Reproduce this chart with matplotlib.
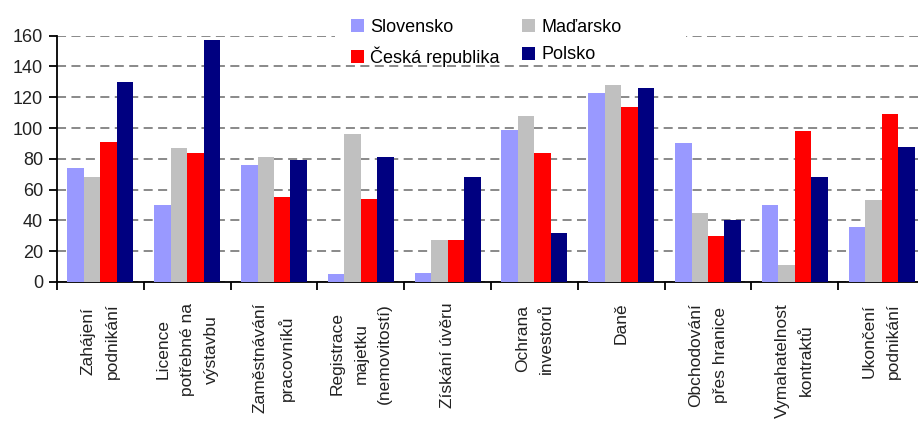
import matplotlib.pyplot as plt
import numpy as np
from matplotlib.patches import Rectangle

plt.rcParams['font.family'] = ['Liberation Sans', 'DejaVu Sans']

# kategorie
kategorie = ["Zahájení\npodnikání", "Licence\npotřebné na\nvýstavbu",
             "Zaměstnávání\npracovníků", "Registrace\nmajetku\n(nemovitostí)",
             "Získání úvěru", "Ochrana\ninvestorů", "Daně",
             "Obchodování\npřes hranice", "Vymahatelnost\nkontraktů",
             "Ukončení\npodnikání"]

slovensko = [74, 50, 76, 5, 6, 99, 123, 90, 50, 36]
madarsko = [68, 87, 81, 96, 27, 108, 128, 45, 11, 53]
cesko = [91, 84, 55, 54, 27, 84, 114, 30, 98, 109]
polsko = [130, 157, 79, 81, 68, 32, 126, 40, 68, 88]

nazvy = ["Slovensko", "Maďarsko", "Česká republika", "Polsko"]
barvy = ["#9999FF", "#C0C0C0", "#FF0000", "#000080"]

fig = plt.figure(figsize=(9.18, 4.21), dpi=100)
ax = fig.add_axes([57/918, 1-282/421, 868/918, (282-35.7)/421])

x = np.arange(len(kategorie))
w = 0.19
bars = []
for i, (data, c) in enumerate(zip([slovensko, madarsko, cesko, polsko], barvy)):
    b = ax.bar(x + (i-1.5)*w, data, w, color=c, zorder=3)
    bars.append(b)

ax.set_xlim(-0.5, len(kategorie)-0.5)
ax.set_ylim(0, 160)
ax.set_yticks(range(0, 161, 20))
ax.yaxis.grid(True, linestyle=(0, (5, 3)), color='#808080', linewidth=1.3, zorder=0)
ax.set_axisbelow(True)

for s in ['top', 'right']:
    ax.spines[s].set_visible(False)
ax.spines['left'].set_linewidth(1.3)
ax.spines['bottom'].set_linewidth(1.3)

ax.set_xticks(x)
ax.set_xticklabels(kategorie, rotation=90, fontsize=12.5, color='#222222',
                   multialignment='center', linespacing=1.75)
ax.set_xticks(np.arange(-0.5, len(kategorie)), minor=True)
ax.tick_params(axis='x', which='major', length=0, pad=15)
ax.tick_params(axis='x', which='minor', length=6, width=1.3, direction='out')
ax.tick_params(axis='y', length=6, width=1.3, labelsize=13, labelcolor='#222222', pad=4)

# bila plocha za legendou
fig.add_artist(Rectangle((335/918, 1-48/421), (686-335)/918, 48/421,
                         transform=fig.transFigure, facecolor='white',
                         edgecolor='none', zorder=4))

handles = [bars[0], bars[2], bars[1], bars[3]]
labels = [nazvy[0], nazvy[2], nazvy[1], nazvy[3]]
leg = fig.legend(handles, labels, ncol=2, loc='upper left',
                 bbox_to_anchor=(338/918, 1-6/421), frameon=False,
                 fontsize=13, handlelength=0.75, handleheight=0.75,
                 handletextpad=0.35, columnspacing=1.2, labelspacing=0.6,
                 borderpad=0.2)
leg.set_zorder(5)

fig.savefig("out.png", dpi=100)
